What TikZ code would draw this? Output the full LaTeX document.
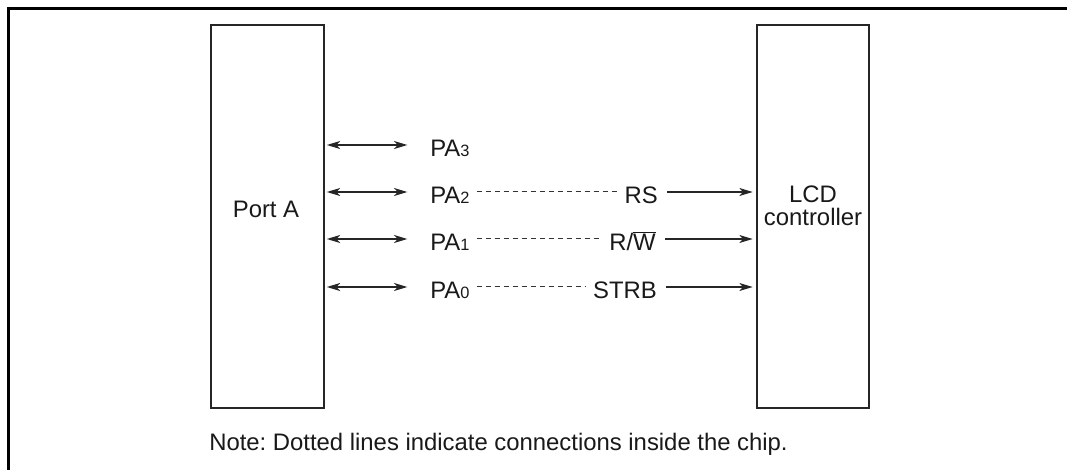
\documentclass[tikz,border=0pt]{standalone}
\usepackage{fontspec}
\setmainfont{Liberation Sans}
\usepackage{tikz}
\usetikzlibrary{arrows.meta,positioning}
\frenchspacing

\begin{document}
\begin{tikzpicture}[
    x=0.75pt, y=-0.75pt,
    font=\fontsize{17.9}{17.25}\selectfont,
    text=black!90,
    box/.style={rectangle, draw=black!85, line width=1.5pt, inner sep=0pt, minimum width=84.5pt, minimum height=287.25pt},
    sig/.style={inner sep=0pt, text height=18pt, text depth=0pt},
    arrow/.style={-{Stealth[length=10pt,width=6pt,inset=2.8pt]}, line width=1pt, draw=black!85, shorten <=6.75pt, shorten >=2.25pt},
    dblarrow/.style={{Stealth[length=10pt,width=6pt,inset=2.8pt]}-{Stealth[length=10pt,width=6pt,inset=2.8pt]}, line width=1pt, draw=black!85, shorten <=1.5pt, shorten >=17pt},
    inside/.style={draw=black!80, line width=0.75pt, dash pattern=on 3.75pt off 3pt, shorten <=5.25pt, shorten >=5.25pt}
]
    \useasboundingbox (0,0) rectangle (1067,470);

    % Frame
    \draw[line width=2.25pt] (8,470) -- (8,9) -- (1067,9);

    % Blocks
    \node[box] (porta) at (267.5,216.5) {};
    \node[box] (lcd) at (813,216.5) {};
    \node[anchor=base, inner sep=0pt] (porttext) at (266,218) {Port A};
    \node[align=center, inner sep=0pt] (lcdtext) at (813,206) {LCD\\controller};

    % Port pins
    \node[sig, anchor=west] (pa3) at (430,145) {PA{\fontsize{12.3}{12}\selectfont 3}};
    \node[sig, anchor=west] (pa2) at (430,192) {PA{\fontsize{12.3}{12}\selectfont 2}};
    \node[sig, anchor=west] (pa1) at (430,239) {PA{\fontsize{12.3}{12}\selectfont 1}};
    \node[sig, anchor=west] (pa0) at (430,287) {PA{\fontsize{12.3}{12}\selectfont 0}};

    % Controller signals
    \node[sig, anchor=east] (rs) at (658,192) {RS};
    \node[sig, anchor=east] (rw) at (656,239) {R/$\overline{\mbox{W}}$};
    \node[sig, anchor=east] (strb) at (657,287) {STRB};

    % Arrows
    \draw[dblarrow] (porta.east |- pa3) -- (pa3.west);
    \draw[dblarrow] (porta.east |- pa2) -- (pa2.west);
    \draw[dblarrow] (porta.east |- pa1) -- (pa1.west);
    \draw[dblarrow] (porta.east |- pa0) -- (pa0.west);
    \draw[inside] (pa2.east) -- (rs.west);
    \draw[inside] (pa1.east) -- (rw.west);
    \draw[inside] (pa0.east) -- (strb.west);
    \draw[arrow] (rs.east) -- (lcd.west |- rs);
    \draw[arrow] (rw.east) -- (lcd.west |- rw);
    \draw[arrow] (strb.east) -- (lcd.west |- strb);

    % Note
    \node[anchor=base west, inner sep=0pt] (note) at (209,450) {Note: Dotted lines indicate connections inside the chip.};
\end{tikzpicture}
\end{document}
